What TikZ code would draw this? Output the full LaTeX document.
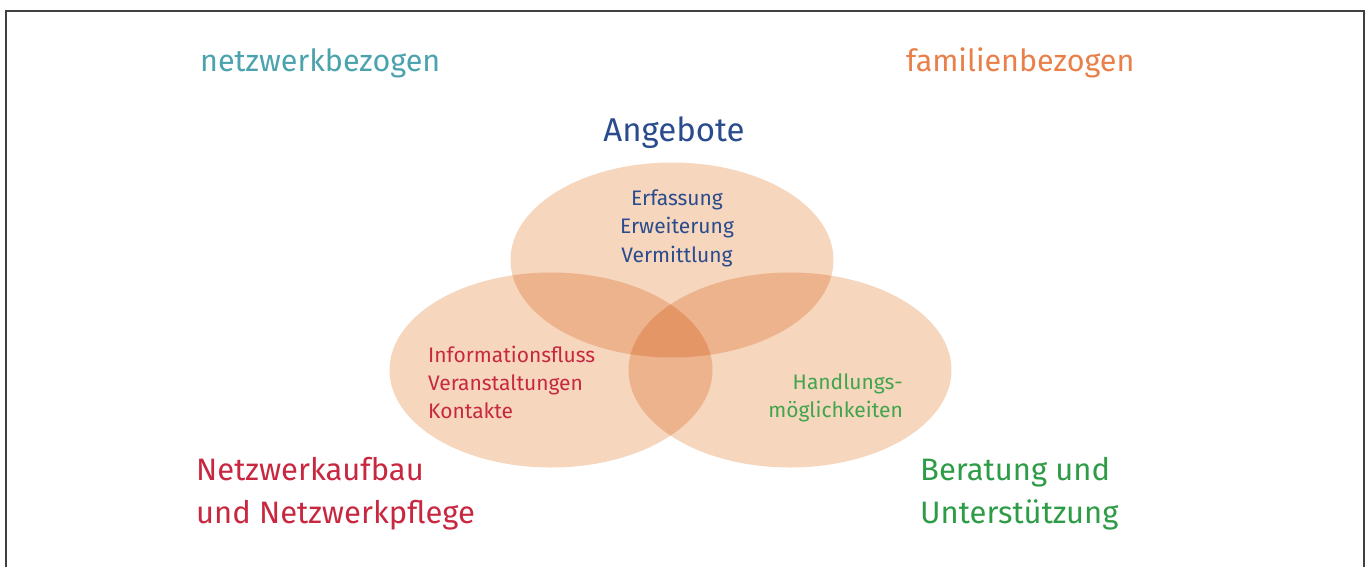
\documentclass[tikz,border=0pt]{standalone}
\usepackage{fontspec}
\setmainfont{Fira Sans}
\usepackage{tikz}
\definecolor{blob}{RGB}{246,214,189}
\definecolor{netzblau}{RGB}{42,75,141}
\definecolor{netzrot}{RGB}{199,40,63}
\definecolor{netzgruen}{RGB}{46,156,70}
\definecolor{hellgruen}{RGB}{64,165,76}
\definecolor{petrol}{RGB}{74,163,173}
\definecolor{orange}{RGB}{233,128,74}
\newcommand{\blob}[2] % x in px, y in px
{
	% one circle of the diagram
	\fill[blob] (#1,#2) ellipse (161.5 and 97.5);
}

\begin{document}
\begin{tikzpicture}[x=1pt, y=-1pt, every node/.style={inner sep=0pt}]
	% 1369px x 566px
	\useasboundingbox (0,0) rectangle (1369,566);
	\draw[line width=1.6pt, black!75] (6,570) -- (6,11) -- (1364,11) -- (1364,570);
	
	\begin{scope}[blend group=multiply]
		\blob{672}{260};
		\blob{551}{370};
		\blob{790}{370};
	\end{scope}
	
	% headings
	\node[petrol, anchor=west, font=\fontsize{30.5}{36}\selectfont] (netz) at (200,63) {netzwerkbezogen};
	\node[orange, anchor=west, font=\fontsize{30.5}{36}\selectfont] (fam) at (906,63) {familienbezogen};
	\node[netzblau, font=\fontsize{33}{40}\selectfont] (angebote) at (674,133) {Angebote};
	
	% inside
	\node[netzblau, align=center, font=\fontsize{21}{28.5}\selectfont] (oben) at (677,228) {Erfassung\\Erweiterung\\Vermittlung};
	\node[netzrot, align=left, anchor=west, font=\fontsize{21}{28}\selectfont] (links) at (428,382) {Informationsfluss\\Veranstaltungen\\Kontakte};
	\node[hellgruen, align=right, anchor=east, font=\fontsize{21}{28}\selectfont] (rechts) at (903,398) {Handlungs-\\möglichkeiten};
	
	% bottom
	\node[netzrot, align=left, anchor=west, font=\fontsize{31}{43}\selectfont] (aufbau) at (196,494) {Netzwerkaufbau\\und Netzwerkpflege};
	\node[netzgruen, align=left, anchor=west, font=\fontsize{31}{43}\selectfont] (beratung) at (920,494) {Beratung und\\Unterstützung};
	
\end{tikzpicture}
\end{document}
